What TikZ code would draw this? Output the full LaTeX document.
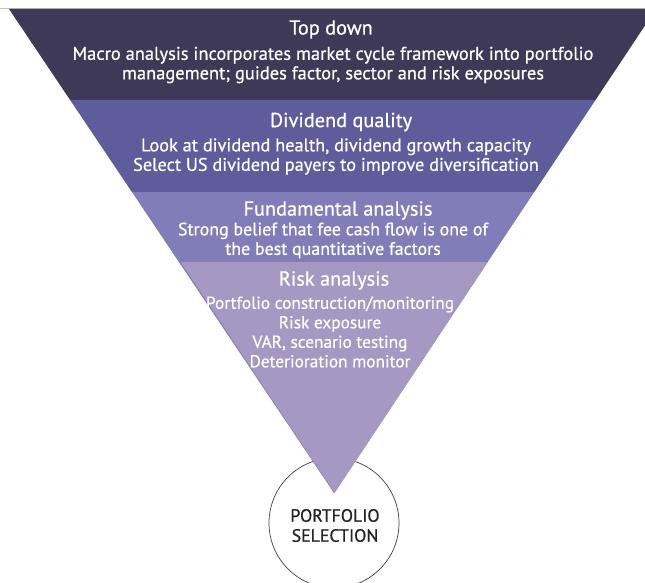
\documentclass[tikz,border=0pt]{standalone}
\usepackage{fontspec}
\setmainfont{PT Sans}
\newfontfamily\bandfont{PT Sans}[FakeBold=0.7]

\definecolor{bandtop}{RGB}{61,57,87}
\definecolor{banddiv}{RGB}{95,92,156}
\definecolor{bandfund}{RGB}{128,125,185}
\definecolor{bandrisk}{RGB}{165,152,194}
\definecolor{ringtext}{RGB}{35,35,35}

\begin{document}
\begin{tikzpicture}[x=1pt,y=-1pt,
    bandtitle/.style={text=white,font=\bandfont\fontsize{20.3}{22}\selectfont},
    bandtext/.style={text=white,align=center,font=\bandfont\fontsize{#1}{19.5}\selectfont},
    ringlabel/.style={text=ringtext,align=center,font=\bandfont\fontsize{17.8}{20}\selectfont}]
    \useasboundingbox (0,0) rectangle (645,583);
    \clip (0,0) rectangle (645,583);

    % Thin rule over the funnel
    \draw[black!25,line width=0.6pt] (0,8.5) -- (645,8.5);

    % Selection circle, sits under the funnel tip
    \draw[black!75,line width=0.7pt,fill=white] (334,523) circle (65pt);

    % Funnel bands, top to bottom
    \fill[bandtop] (9,9) -- (656,9) -- (595.5,100) -- (70.1,100) -- cycle;
    \fill[banddiv] (70.1,100) -- (595.5,100) -- (534.3,192) -- (131.9,192) -- cycle;
    % third band runs down to the tip, last band laid over it
    \fill[bandfund] (131.9,192) -- (534.3,192) -- (334,493) -- cycle;
    \fill[bandrisk] (180.6,262) -- (487.8,262) -- (334.6,493) -- cycle;

    % Top down
    \node[bandtitle] (topdown) at (331,29.5) {Top down};
    \node[bandtext=18.45] (topdowntext) at (333,65) {Macro analysis incorporates market cycle framework into portfolio\\management; guides factor, sector and risk exposures};

    % Dividend quality
    \node[bandtitle] (divquality) at (341,122) {Dividend quality};
    \node[bandtext=18.3] (divqualitytext) at (336,156.5) {Look at dividend health, dividend growth capacity\\Select US dividend payers to improve diversification};

    % Fundamental analysis
    \node[bandtitle] (fundamental) at (338,210.5) {Fundamental analysis};
    \node[bandtext=17.9] (fundamentaltext) at (333,240.5) {Strong belief that fee cash flow is one of\\the best quantitative factors};

    % Risk analysis
    \node[bandtitle] (riskanalysis) at (334,280.5) {Risk analysis};
    \node[bandtext=17.3] (risktext) at (330,332) {Portfolio construction/monitoring\\Risk exposure\\VAR, scenario testing\\Deterioration monitor};

    % Circle label
    \node[ringlabel] (selection) at (335,525.5) {PORTFOLIO\\SELECTION};
\end{tikzpicture}
\end{document}
